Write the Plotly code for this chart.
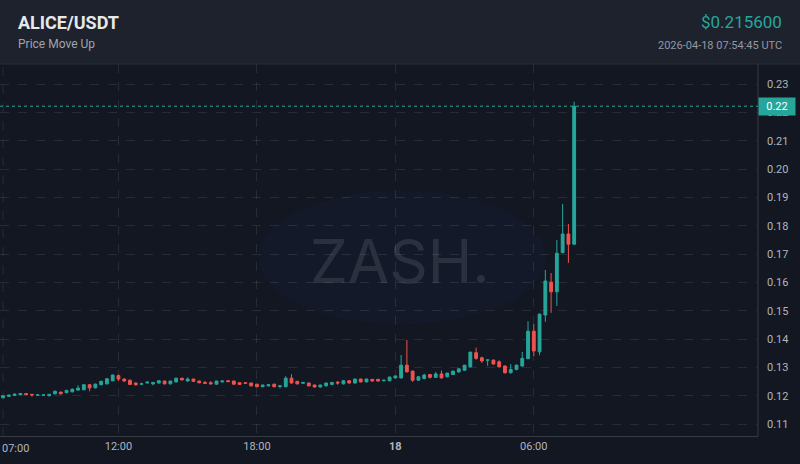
import pandas as pd
import plotly.graph_objects as go

# 15-minute candles, ALICE/USDT
times = pd.date_range("2026-04-17 07:00", periods=100, freq="15min")

opens = [
    .1193, .1198, .1201, .1204, .1208, .1205, .1202, .1202, .1200, .1207,
    .1213, .1211, .1214, .1220, .1221, .1239, .1228, .1239, .1242, .1253,
    .1271, .1259, .1255, .1245, .1241, .1245, .1242, .1245, .1252, .1242,
    .1249, .1262, .1252, .1259, .1252, .1247, .1246, .1241, .1249, .1253,
    .1252, .1246, .1246, .1245, .1241, .1232, .1235, .1241, .1233, .1232,
    .1262, .1251, .1244, .1245, .1238, .1231, .1235, .1240, .1248, .1242,
    .1253, .1245, .1259, .1249, .1258, .1258, .1253, .1253, .1263, .1263,
    .1308, .1287, .1255, .1261, .1275, .1265, .1277, .1267, .1275, .1284,
    .1290, .1302, .1352, .1334, .1326, .1326, .1320, .1305, .1281, .1293,
    .1305, .1331, .1428, .1355, .1485, .1601, .1567, .1705, .1771, .1735,
]
closes = [
    .1200, .1202, .1206, .1208, .1204, .1203, .1203, .1203, .1205, .1216,
    .1207, .1219, .1223, .1227, .1239, .1228, .1241, .1251, .1260, .1273,
    .1259, .1252, .1240, .1239, .1242, .1248, .1247, .1253, .1242, .1252,
    .1262, .1256, .1259, .1251, .1246, .1244, .1242, .1252, .1252, .1250,
    .1241, .1240, .1244, .1235, .1232, .1238, .1239, .1232, .1235, .1262,
    .1245, .1242, .1247, .1235, .1231, .1238, .1245, .1247, .1245, .1253,
    .1245, .1259, .1249, .1259, .1252, .1252, .1255, .1266, .1270, .1308,
    .1285, .1255, .1267, .1273, .1265, .1277, .1263, .1280, .1287, .1295,
    .1308, .1354, .1332, .1323, .1326, .1312, .1302, .1281, .1293, .1308,
    .1332, .1428, .1358, .1488, .1605, .1567, .1703, .1771, .1735, .2222,
]
highs = [
    .1202, .1204, .1208, .1210, .1209, .1206, .1205, .1204, .1206, .1218,
    .1214, .1221, .1226, .1237, .1240, .1240, .1243, .1253, .1262, .1275,
    .1275, .1262, .1257, .1247, .1246, .1250, .1248, .1255, .1253, .1253,
    .1263, .1263, .1265, .1260, .1253, .1252, .1252, .1253, .1254, .1255,
    .1253, .1247, .1247, .1246, .1242, .1239, .1241, .1242, .1236, .1269,
    .1276, .1252, .1249, .1246, .1239, .1239, .1246, .1249, .1252, .1255,
    .1254, .1260, .1260, .1260, .1259, .1259, .1256, .1267, .1272, .1344,
    .1397, .1288, .1268, .1278, .1277, .1284, .1289, .1281, .1288, .1296,
    .1309, .1355, .1370, .1338, .1328, .1327, .1325, .1307, .1312, .1310,
    .1355, .1463, .1453, .1490, .1644, .1633, .1750, .1877, .1806, .2238,
]
lows = [
    .1191, .1196, .1199, .1202, .1202, .1197, .1201, .1201, .1198, .1205,
    .1205, .1209, .1212, .1218, .1220, .1216, .1226, .1237, .1240, .1251,
    .1252, .1249, .1238, .1236, .1239, .1243, .1237, .1243, .1240, .1240,
    .1247, .1254, .1250, .1249, .1244, .1242, .1240, .1239, .1247, .1248,
    .1239, .1238, .1243, .1233, .1230, .1230, .1233, .1230, .1226, .1230,
    .1243, .1240, .1243, .1233, .1229, .1229, .1233, .1238, .1239, .1240,
    .1243, .1243, .1247, .1247, .1250, .1250, .1251, .1251, .1261, .1261,
    .1281, .1249, .1253, .1258, .1261, .1263, .1261, .1265, .1273, .1282,
    .1288, .1300, .1327, .1316, .1306, .1310, .1300, .1279, .1279, .1290,
    .1303, .1329, .1340, .1343, .1461, .1493, .1517, .1703, .1669, .1733,
]

last_price = closes[-1]
first_tick = "2026-04-17 07:00"
tick_vals = ["2026-04-17 12:00", "2026-04-17 18:00", "2026-04-18 00:00", "2026-04-18 06:00"]
tick_text = ["12:00", "18:00", "<b>18</b>", "06:00"]
price_ticks = [0.11, 0.12, 0.13, 0.14, 0.15, 0.16, 0.17, 0.18, 0.19, 0.20, 0.21, 0.22, 0.23]

GREEN, RED = "#26a69a", "#ef5350"
GRID = "rgba(255,255,255,0.09)"
PLOT_H = 464 - 64 - 28

fig = go.Figure(
    go.Candlestick(
        x=times, open=opens, high=highs, low=lows, close=closes,
        increasing=dict(line=dict(color=GREEN, width=1), fillcolor=GREEN),
        decreasing=dict(line=dict(color=RED, width=1), fillcolor=RED),
        whiskerwidth=0, showlegend=False,
    )
)

# header band
fig.add_shape(type="rect", xref="paper", yref="paper", x0=0, x1=800 / 758,
              y0=1, y1=1 + 64 / PLOT_H, fillcolor="#1e222d", line_width=0, layer="below")
fig.add_shape(type="line", xref="paper", yref="paper", x0=0, x1=800 / 758,
              y0=1, y1=1, line=dict(color="#2a2e39", width=1))
fig.add_shape(type="line", xref="paper", yref="paper", x0=1, x1=1,
              y0=0, y1=1, line=dict(color="#363a45", width=1))
# first time gridline (label placed separately so it is not clipped)
fig.add_shape(type="line", xref="x", yref="paper", x0=first_tick, x1=first_tick,
              y0=0, y1=1, line=dict(color=GRID, width=1, dash="dash"), layer="below")
# watermark glow
fig.add_shape(type="circle", xref="paper", yref="paper", x0=0.34, x1=0.72,
              y0=0.30, y1=0.66, fillcolor="rgba(30,40,100,0.12)", line_width=0, layer="below")
# last price line
fig.add_shape(type="line", xref="paper", yref="y", x0=0, x1=1,
              y0=last_price, y1=last_price, line=dict(color=GREEN, width=1, dash="dot"))

fig.add_annotation(text="07:00", xref="paper", yref="paper", x=0, xanchor="left",
                   y=-12 / PLOT_H, yanchor="middle", showarrow=False,
                   font=dict(family="Roboto", size=11, color="#b2b5be"))
fig.add_annotation(text="ZASH.", xref="paper", yref="paper", x=0.528, y=0.47,
                   showarrow=False, font=dict(family="Inter", size=60, color="rgba(255,255,255,0.10)"))
fig.add_annotation(text=f"{last_price:.2f}", xref="paper", yref="y", x=1, xanchor="left",
                   y=last_price, showarrow=False, bgcolor=GREEN, borderpad=2, width=32,
                   font=dict(family="Roboto", size=11, color="white"))
fig.add_annotation(text="<b>ALICE/USDT</b>", xref="paper", yref="paper", x=16 / 758, xanchor="left",
                   y=1 + 42 / PLOT_H, yanchor="middle", showarrow=False,
                   font=dict(family="Roboto", size=18, color="#e8e8e8"))
fig.add_annotation(text="Price Move Up", xref="paper", yref="paper", x=16 / 758, xanchor="left",
                   y=1 + 20 / PLOT_H, yanchor="middle", showarrow=False,
                   font=dict(family="Roboto", size=12, color="#a0a4ad"))
fig.add_annotation(text="$0.215600", xref="paper", yref="paper", x=784 / 758, xanchor="right",
                   y=1 + 42 / PLOT_H, yanchor="middle", showarrow=False,
                   font=dict(family="Roboto", size=17, color=GREEN))
fig.add_annotation(text="2026-04-18 07:54:45 UTC", xref="paper", yref="paper", x=784 / 758,
                   xanchor="right", y=1 + 19 / PLOT_H, yanchor="middle", showarrow=False,
                   font=dict(family="Roboto", size=11, color="#9598a1"))

fig.update_layout(
    width=800, height=464,
    margin=dict(l=0, r=42, t=64, b=28),
    paper_bgcolor="#131722", plot_bgcolor="#131722",
    font=dict(family="Roboto", color="#b2b5be", size=11),
    xaxis=dict(
        type="date", range=["2026-04-17 06:52", "2026-04-18 15:43"],
        tickvals=tick_vals, ticktext=tick_text, rangeslider=dict(visible=False),
        showgrid=True, gridcolor=GRID, griddash="dash",
        zeroline=False, showline=True, linecolor="#363a45", ticks="",
    ),
    yaxis=dict(
        side="right", range=[0.1058, 0.2371], tickvals=price_ticks,
        tickformat=".2f", showgrid=True, gridcolor=GRID,
        griddash="dash", zeroline=False, ticks="", ticklabelstandoff=8,
    ),
)

fig.write_html("out.html", config={"displayModeBar": False},
               post_script="document.body.style.margin='0';")
